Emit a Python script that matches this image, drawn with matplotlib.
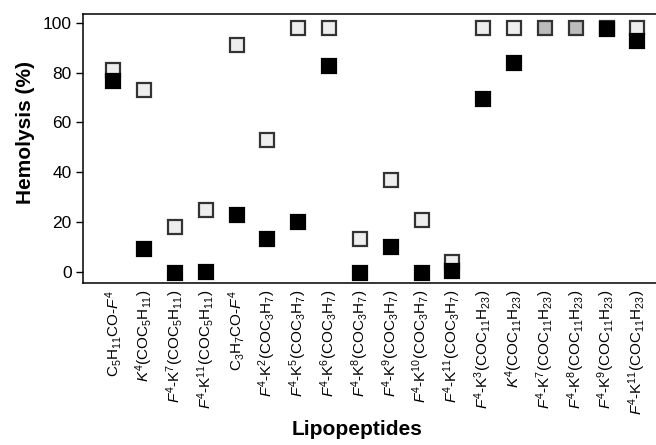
import numpy as np
import matplotlib
matplotlib.use("Agg")
import matplotlib.pyplot as plt

plt.rcParams["font.family"] = ["Liberation Sans", "DejaVu Sans"]
plt.rcParams["mathtext.fontset"] = "custom"
plt.rcParams["mathtext.rm"] = "Liberation Sans"
plt.rcParams["mathtext.it"] = "Liberation Sans:italic"
plt.rcParams["mathtext.bf"] = "Liberation Sans:bold"

# Lipopeptide names (mathtext for sub/superscripts)
peptides = [
    "C$_5$H$_{11}$CO-$F^4$",
    "$K^4$(COC$_5$H$_{11}$)",
    "$F^4$-K$^7$(COC$_5$H$_{11}$)",
    "$F^4$-K$^{11}$(COC$_5$H$_{11}$)",
    "C$_3$H$_7$CO-$F^4$",
    "$F^4$-K$^2$(COC$_3$H$_7$)",
    "$F^4$-K$^5$(COC$_3$H$_7$)",
    "$F^4$-K$^6$(COC$_3$H$_7$)",
    "$F^4$-K$^8$(COC$_3$H$_7$)",
    "$F^4$-K$^9$(COC$_3$H$_7$)",
    "$F^4$-K$^{10}$(COC$_3$H$_7$)",
    "$F^4$-K$^{11}$(COC$_3$H$_7$)",
    "$F^4$-K$^3$(COC$_{11}$H$_{23}$)",
    "$K^4$(COC$_{11}$H$_{23}$)",
    "$F^4$-K$^7$(COC$_{11}$H$_{23}$)",
    "$F^4$-K$^8$(COC$_{11}$H$_{23}$)",
    "$F^4$-K$^9$(COC$_{11}$H$_{23}$)",
    "$F^4$-K$^{11}$(COC$_{11}$H$_{23}$)",
]

# hemolysis (%) - open squares and filled squares
hemo_open = [81, 73, 18, 25, 91, 53, 98, 98, 13, 37, 21, 4, 98, 98, 98, 98, 98, 98]
hemo_filled = [76.5, 9, -0.5, 0, 23, 13, 20, 82.5, -0.5, 10, -0.5, 0.5, 69.5, 84, 98, 98, 97.5, 92.5]

x = np.arange(len(peptides))
hemo_open = np.array(hemo_open)
hemo_filled = np.array(hemo_filled)
same = np.isclose(hemo_open, hemo_filled)

fig = plt.figure(figsize=(6.56, 4.45), dpi=100)
ax = fig.add_axes([0.1265, 0.364, 0.8735, 0.6045])

ms = 10
ax.plot(x[~same], hemo_open[~same], "s", ms=ms, mfc="#eeeeee", mec="#333333", mew=1.6, zorder=3)
ax.plot(x[~same], hemo_filled[~same], "s", ms=ms, mfc="black", mec="black", mew=1.6, zorder=4)
ax.plot(x[same], hemo_open[same], "s", ms=ms, mfc="#bbbbbb", mec="#333333", mew=1.6, zorder=4)

ax.set_xlim(-0.98, 17.6)
ax.set_ylim(-4.5, 103.5)
ax.set_yticks([0, 20, 40, 60, 80, 100])
ax.set_xticks(x)
ax.set_xticklabels(peptides, rotation=90, fontsize=11)
ax.tick_params(axis="x", length=0, pad=5)
ax.tick_params(axis="y", length=5, width=1, labelsize=12.5, pad=3)
for s in ["left", "top", "bottom"]:
    ax.spines[s].set_linewidth(1.1)
ax.spines["right"].set_visible(False)

ax.set_ylabel("Hemolysis (%)", fontsize=15, fontweight="bold")
ax.yaxis.set_label_coords(-0.083, 0.56)
ax.set_xlabel("Lipopeptides", fontsize=15, fontweight="bold")
ax.xaxis.set_label_coords(0.478, -0.51)

fig.savefig("out.png", dpi=100)
